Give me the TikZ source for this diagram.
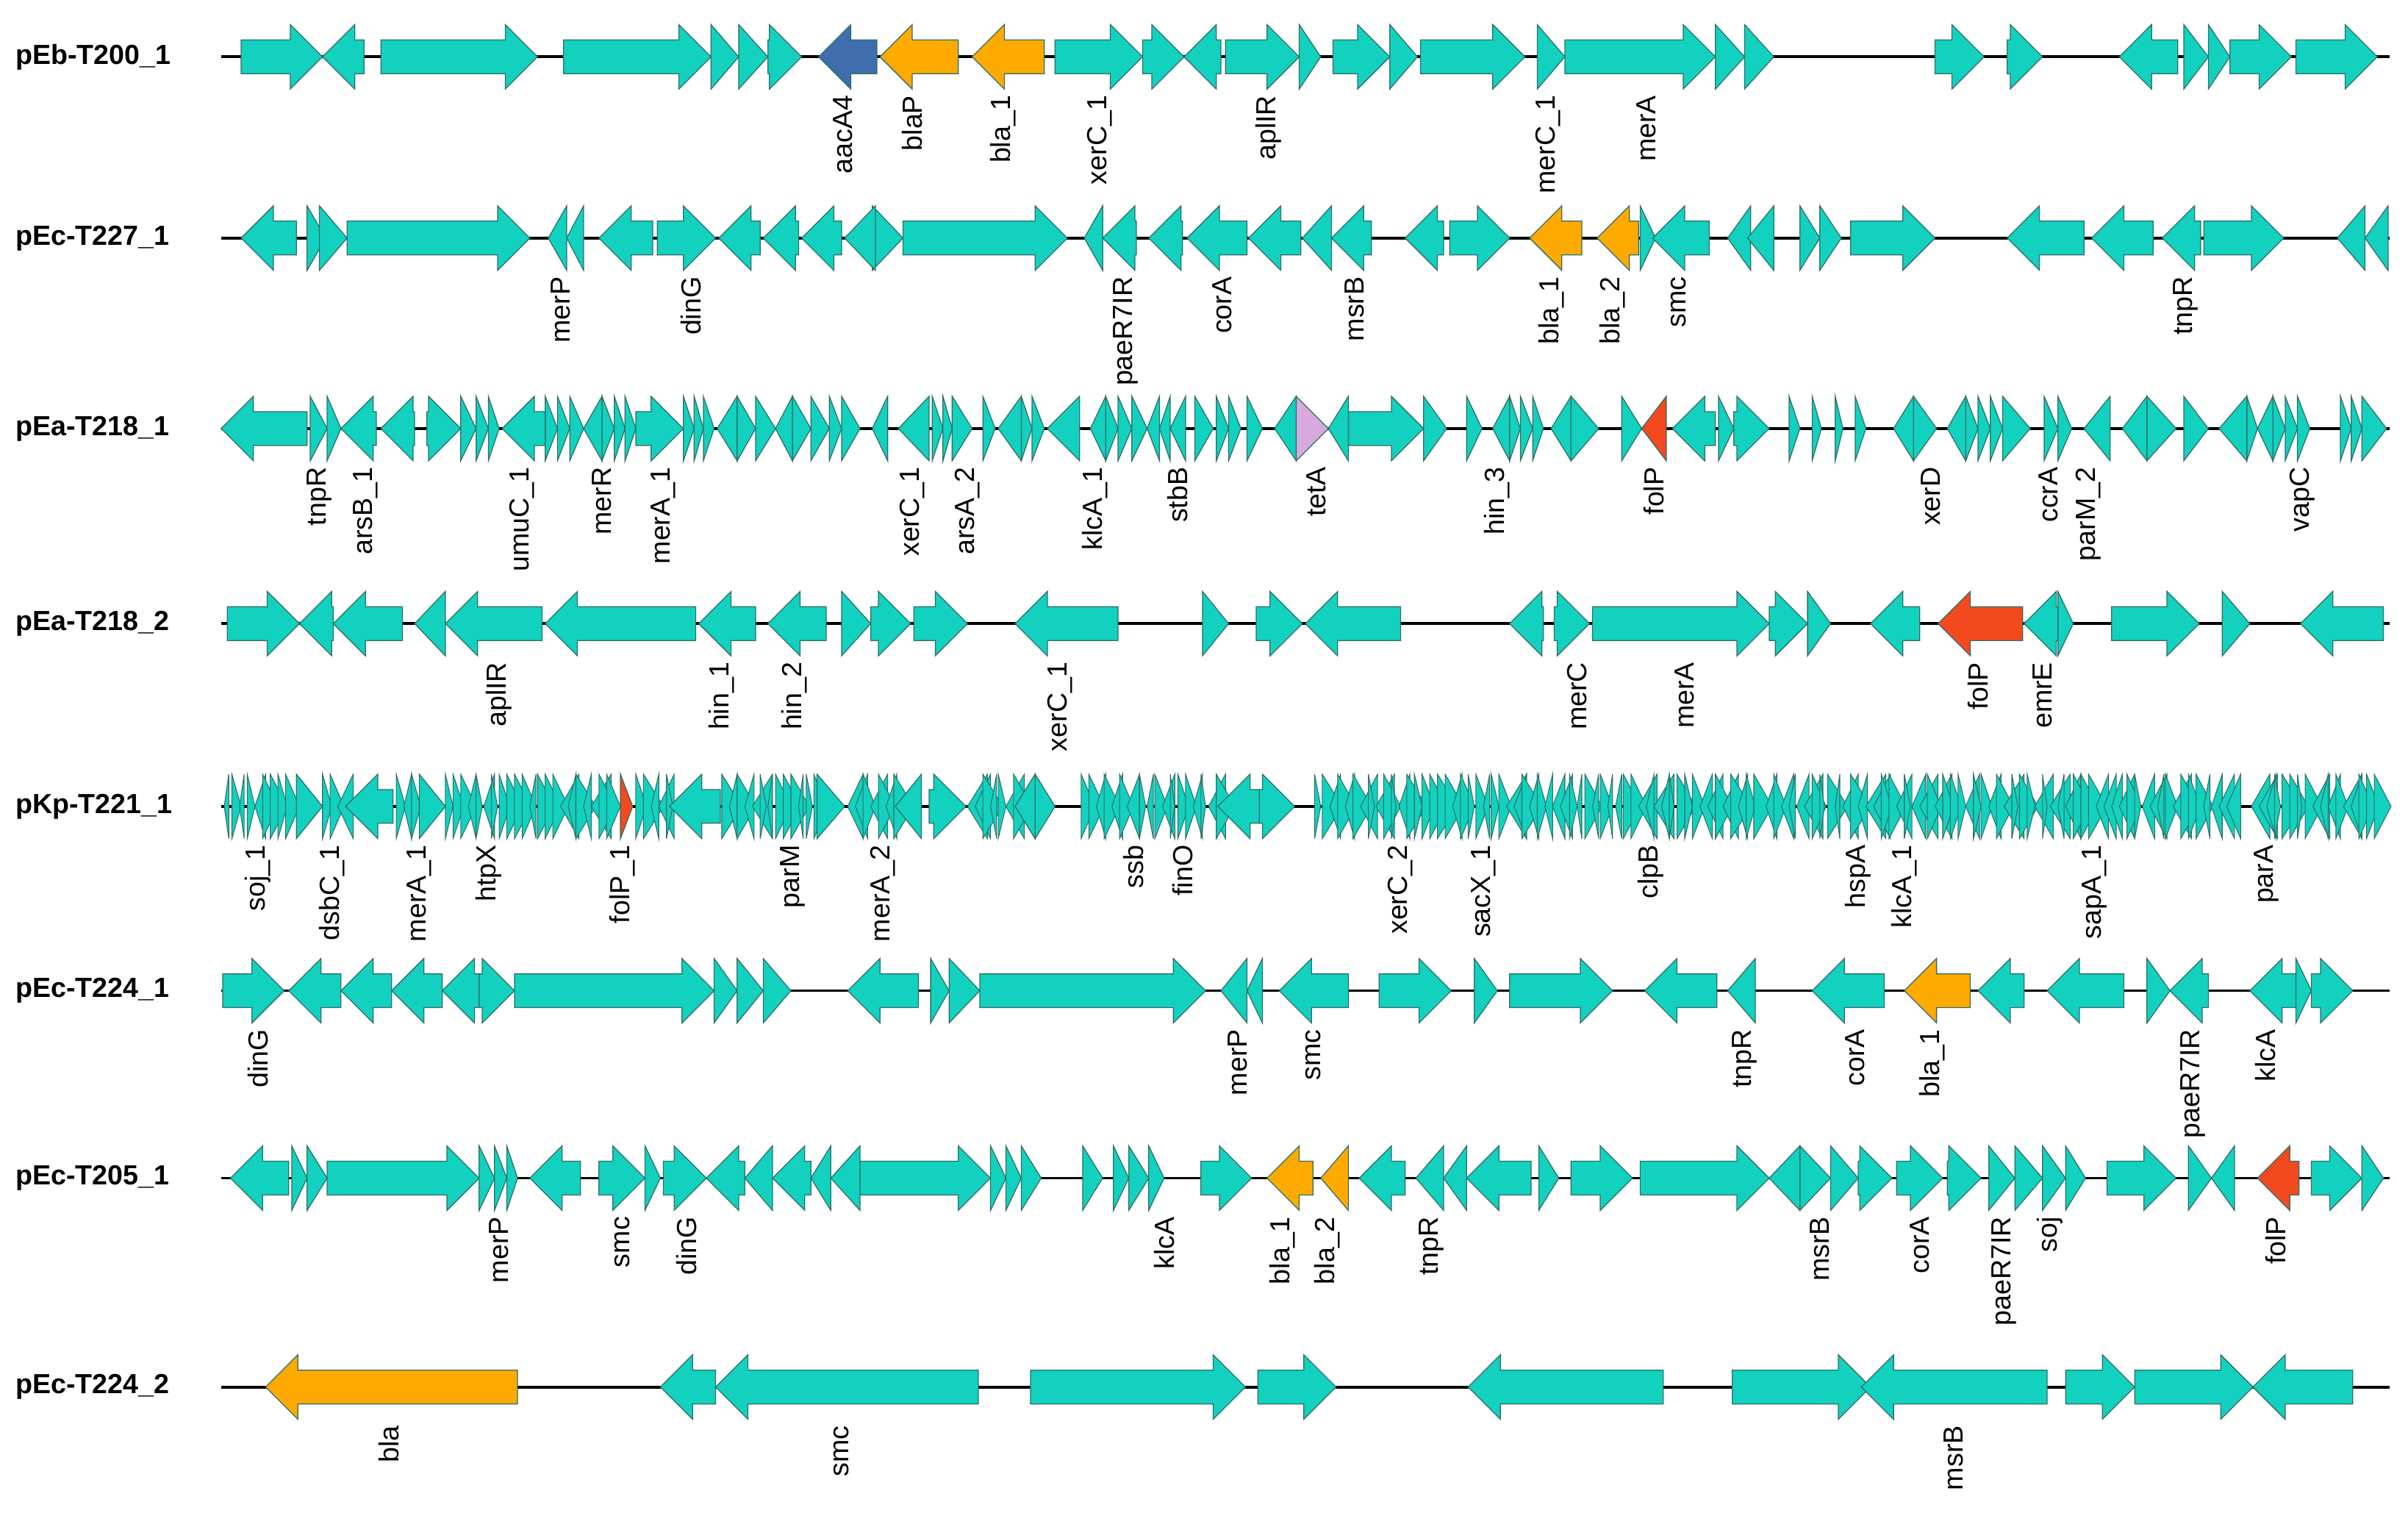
\documentclass[tikz,border=0pt]{standalone}
\usepackage{fontspec}
\setmainfont{Liberation Sans}
\definecolor{gteal}{HTML}{12D1BE}
\definecolor{gedge}{HTML}{2E6E68}
\definecolor{gorange}{HTML}{FFAA00}
\definecolor{gblue}{HTML}{3F6EAE}
\definecolor{gred}{HTML}{F24A1E}
\definecolor{gpink}{HTML}{D7A9DE}
\newcommand{\gR}[4]{%
  \pgfmathsetmacro{\hb}{max(#2,#3-21)}%
  \fill[#4,draw=gedge,line width=0.6pt,line join=miter] (#2,#1-11) -- (\hb,#1-11) -- (\hb,#1-21) -- (#3,#1) -- (\hb,#1+21) -- (\hb,#1+11) -- (#2,#1+11) -- cycle;}
\newcommand{\gL}[4]{%
  \pgfmathsetmacro{\hb}{min(#3,#2+21)}%
  \fill[#4,draw=gedge,line width=0.6pt,line join=miter] (#3,#1-11) -- (\hb,#1-11) -- (\hb,#1-21) -- (#2,#1) -- (\hb,#1+21) -- (\hb,#1+11) -- (#3,#1+11) -- cycle;}
\newcommand{\trackgenes}[3]{% y, R list, L list
  \foreach \a/\b in {#2}{\gR{#1}{\a}{\b}{gteal}}
  \foreach \a/\b in {#3}{\gL{#1}{\a}{\b}{gteal}}}
\newcommand{\tracklabels}[3]{% id, y, list
  \foreach \x/\t [count=\i] in {#3}{\node[glabel] (lab-#1-\i) at (\x,#2+25) {\t};}}
\begin{document}
\begin{tikzpicture}[x=1pt,y=-1pt,
  baseline/.style={line width=1.8pt,black},
  tname/.style={anchor=west,font=\fontsize{18}{18}\selectfont\bfseries,inner sep=0pt},
  glabel/.style={rotate=90,anchor=east,inner sep=0pt,font=\fontsize{18}{18}\selectfont}]
\useasboundingbox (0,0) rectangle (1568,985);
% track names
\foreach \y/\n [count=\i] in {37/pEb-T200\_1,155/pEc-T227\_1,279/pEa-T218\_1,406/pEa-T218\_2,525/pKp-T221\_1,645/pEc-T224\_1,767/pEc-T205\_1,903/pEc-T224\_2}{
  \node[tname] (name-\i) at (10,\y) {\n};
  \draw[baseline] (144,\y) -- (1556,\y);
}
% ---------- Track 1
\trackgenes{37}{157/210,248/350,367/463,463/481,481/500,500/522,687/744,744/771,798/846,846/860,868/905,905/923,925/993,1001/1019,1019/1117,1117/1136,1136/1155,1260/1292,1307/1330,1422/1438,1438/1452,1452/1492,1495/1548}{210/237,771/795,1380/1418}
\gL{37}{533}{571}{gblue}
\gL{37}{573}{624}{gorange}
\gL{37}{633}{680}{gorange}
\tracklabels{1}{37}{549/aacA4,594/blaP,653/bla\_1,716/xerC\_1,826/aplIR,1008/merC\_1,1072/merA}
% ---------- Track 2
\trackgenes{155}{200/212,208/226,226/345,428/466,568/588,588/695,944/983,1068/1078,1172/1185,1185/1199,1205/1260,1435/1487}{157/193,357/369,369/380,390/425,468/495,497/520,522/548,550/570,706/718,718/740,748/770,773/812,813/847,848/867,867/893,915/940,1076/1113,1125/1140,1138/1155,1307/1357,1362/1402,1408/1433,1522/1540,1540/1555}
\gL{155}{996}{1030}{gorange}
\gL{155}{1040}{1067}{gorange}
\tracklabels{2}{155}{365/merP,450/dinG,733/paeR7IR,796/corA,882/msrB,1010/bla\_1,1050/bla\_2,1093/smc,1423/tnpR}
% ---------- Track 3
\trackgenes{279}{202/213,213/222,278/300,300/310,310/318,318/325,355/363,363/371,371/380,392/400,400/407,407/414,414/445,445/452,452/458,458/465,480/492,492/505,516/528,528/540,540/548,548/560,607/614,614/620,620/633,640/648,665/672,672/680,720/728,728/737,737/747,778/790,792/800,800/808,812/822,878/927,927/942,955/965,983/990,990/998,998/1005,1023/1041,1056/1069,1119/1129,1129/1152,1165/1172,1180/1186,1195/1200,1208/1215,1246/1261,1280/1288,1288/1296,1296/1304,1304/1322,1331/1340,1340/1349,1398/1417,1422/1438,1463/1470,1480/1488,1488/1496,1496/1504,1524/1531,1531/1538,1538/1554}{144/200,222/245,248/270,327/355,380/392,467/480,505/516,568/578,585/605,650/665,682/703,710/720,747/755,755/762,762/772,830/844,865/878,972/983,1010/1023,1089/1117,1233/1246,1268/1280,1357/1374,1382/1398,1445/1463,1470/1480}
\gL{279}{1069}{1085}{gred}
\gR{279}{844}{865}{gpink}
\tracklabels{3}{279}{208/tnpR,238/arsB\_1,340/umuC\_1,392/merR,432/merA\_1,594/xerC\_1,630/arsA\_2,713/klcA\_1,767/stbB,857/tetA,975/hin\_3,1077/folP,1257/xerD,1334/ccrA,1360/parM\_2,1499/vapC}
% ---------- Track 4
\trackgenes{406}{148/195,548/567,567/593,595/630,783/800,818/848,1012/1035,1037/1152,1152/1177,1177/1192,1340/1350,1375/1432,1447/1465}{195/217,217/262,270/290,290/353,355/453,455/492,500/538,661/728,850/912,983/1005,1218/1250,1318/1340,1498/1552}
\gL{406}{1262}{1317}{gred}
\tracklabels{4}{406}{325/aplIR,470/hin\_1,517/hin\_2,690/xerC\_1,1027/merC,1097/merA,1288/folP,1330/emrE}
% ---------- Track 5 (dense)
\pgfmathsetseed{2024}
\foreach \a/\b in {146/190,210/222,258/272,290/398,414/436,470/530,552/582,630/660,704/736,742/792,856/1018,1022/1048,1052/1145,1150/1450,1466/1550}{
  \pgfmathtruncatemacro{\c}{\a+5}
  \foreach \x in {\a,\c,...,\b}{
    \pgfmathrandominteger{\w}{3}{13}
    \pgfmathrandominteger{\d}{0}{1}
    \ifnum\d=1
      \fill[gteal,draw=gedge,line width=0.5pt] (\x,504) -- (\x+\w,525) -- (\x,546) -- cycle;
    \else
      \fill[gteal,draw=gedge,line width=0.5pt] (\x+\w,504) -- (\x,525) -- (\x+\w,546) -- cycle;
    \fi
  }
}
\trackgenes{525}{193/210,273/290,532/550,605/629,674/687,820/843}{225/256,436/469,583/600,661/674,793/820}
\gR{525}{404}{412}{gred}
\tracklabels{5}{525}{168/soj\_1,216/dsbC\_1,273/merA\_1,318/htpX,405/folP\_1,516/parM,575/merA\_2,738/ssb,770/finO,912/xerC\_2,966/sacX\_1,1075/clpB,1210/hspA,1240/klcA\_1,1364/sapA\_1,1476/parA}
% ---------- Track 6
\trackgenes{645}{145/185,312/335,335/465,465/480,480/497,497/515,606/618,618/638,638/785,898/945,960/975,983/1050,1398/1413,1495/1505,1505/1532}{188/222,222/255,255/288,288/312,552/598,795/812,812/822,833/878,1071/1118,1125/1143,1180/1227,1288/1318,1333/1383,1413/1438,1465/1495}
\gL{645}{1240}{1283}{gorange}
\tracklabels{6}{645}{168/dinG,806/merP,855/smc,1136/tnpR,1208/corA,1258/bla\_1,1428/paeR7IR,1475/klcA}
% ---------- Track 7
\trackgenes{767}{190/200,200/213,213/312,312/322,322/330,330/337,390/420,420/430,432/460,560/645,645/655,655/665,665/678,705/718,725/735,735/748,748/758,782/815,1002/1015,1023/1063,1068/1152,1172/1192,1192/1210,1210/1232,1235/1265,1268/1290,1295/1312,1312/1330,1330/1345,1345/1358,1372/1417,1425/1440,1505/1538,1538/1552}{150/188,345/378,460/485,485/503,503/528,528/541,541/560,885/915,922/940,940/955,955/997,1152/1172,1440/1455}
\gL{767}{825}{855}{gorange}
\gL{767}{860}{878}{gorange}
\gL{767}{1470}{1497}{gred}
\tracklabels{7}{767}{325/merP,405/smc,447/dinG,758/klcA,835/bla\_1,864/bla\_2,932/tnpR,1185/msrB,1250/corA,1305/paeR7IR,1335/soj,1482/folP}
% ---------- Track 8
\gL{903}{173}{337}{gorange}
\trackgenes{903}{671/811,819/870,1128/1218,1345/1390,1390/1467}{430/466,466/637,956/1083,1212/1333,1467/1532}
\tracklabels{8}{903}{253/bla,548/smc,1272/msrB}
\end{tikzpicture}
\end{document}
